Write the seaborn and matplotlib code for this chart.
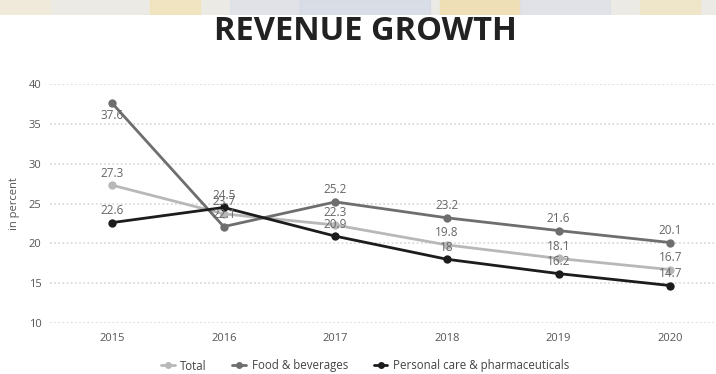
import matplotlib
matplotlib.use("Agg")
import matplotlib.pyplot as plt
import seaborn as sns
import pandas as pd

years = [2015, 2016, 2017, 2018, 2019, 2020]
total = [27.3, 23.7, 22.3, 19.8, 18.1, 16.7]
food_beverages = [37.6, 22.1, 25.2, 23.2, 21.6, 20.1]
personal_care = [22.6, 24.5, 20.9, 18.0, 16.2, 14.7]
series_names = ["Total", "Food & beverages", "Personal care & pharmaceuticals"]
colors = ["#b8b8b8", "#6e6e6e", "#1c1c1c"]
y_ticks = [10, 15, 20, 25, 30, 35, 40]

df = pd.DataFrame({
    "year": years * 3,
    "value": total + food_beverages + personal_care,
    "series": [s for s in series_names for _ in years],
})

sns.set_theme(style="white")
plt.rcParams["font.family"] = ["Open Sans", "DejaVu Sans"]

fig = plt.figure(figsize=(7.16, 3.74), dpi=100)
fig.patch.set_facecolor("white")

# faint banner strip along the top edge
banner = fig.add_axes([0, 1 - 15 / 374, 1, 15 / 374])
banner.set_xlim(0, 716)
banner.set_ylim(0, 1)
banner.axis("off")
banner.axvspan(0, 716, color="#eceae4")
for x0, x1, c in [(0, 50, "#f1ead8"), (150, 200, "#f2e4b8"), (230, 300, "#dde1ea"),
                  (300, 430, "#d3dae7"), (440, 520, "#f0ddab"), (520, 610, "#dde1e9"),
                  (640, 700, "#f1e4c2")]:
    banner.axvspan(x0, x1, color=c, alpha=0.8)

ax = fig.add_axes([50 / 716, 1 - 323 / 374, 666 / 716, (323 - 84) / 374])
palette = dict(zip(series_names, colors))
sns.lineplot(data=df, x="year", y="value", hue="series", palette=palette,
             marker="o", markersize=6, markeredgewidth=0, linewidth=2,
             ax=ax, legend=False, clip_on=False)

ax.set_xlim(2014.444, 2020.41)
ax.set_ylim(10, 40)
ax.set_yticks(y_ticks)
ax.set_xticks(years)
ax.set_xticklabels([str(y) for y in years])
ax.tick_params(axis="both", length=0, labelsize=8, labelcolor="#555555")
ax.tick_params(axis="x", pad=7)
ax.tick_params(axis="y", pad=6)
for t in y_ticks:
    ax.axhline(t, color="#d6d6d6", linewidth=1.2, linestyle=(0, (1, 1.5)), zorder=0)
for s in ax.spines.values():
    s.set_visible(False)
ax.set_xlabel("")
ax.set_ylabel("in percent", fontsize=8, color="#555555")
ax.yaxis.set_label_coords(-30 / 666, 0.5)

for name, vals in zip(series_names, [total, food_beverages, personal_care]):
    for x, v in zip(years, vals):
        # labels sit above their point unless that would run past the top
        below = v > 36
        ax.annotate(f"{v:g}", (x, v), xytext=(0, -4 if below else 4),
                    textcoords="offset points", ha="center",
                    va="top" if below else "bottom", fontsize=8.5,
                    color="#666666", annotation_clip=False)

fig.text(0.51, 1 - 31 / 374, "REVENUE GROWTH", ha="center", va="center",
         fontsize=23.5, fontweight="bold", color="#222222")

handles = [plt.Line2D([], [], color=c, marker="o", markersize=5, linewidth=2,
                      markeredgewidth=0) for c in colors]
fig.legend(handles, series_names, loc="center", bbox_to_anchor=(0.51, 1 - 366 / 374),
           ncol=3, frameon=False, fontsize=8.3, labelcolor="#444444",
           handlelength=1.2, handletextpad=0.5, columnspacing=2.2)

fig.savefig("out.png", dpi=100)
